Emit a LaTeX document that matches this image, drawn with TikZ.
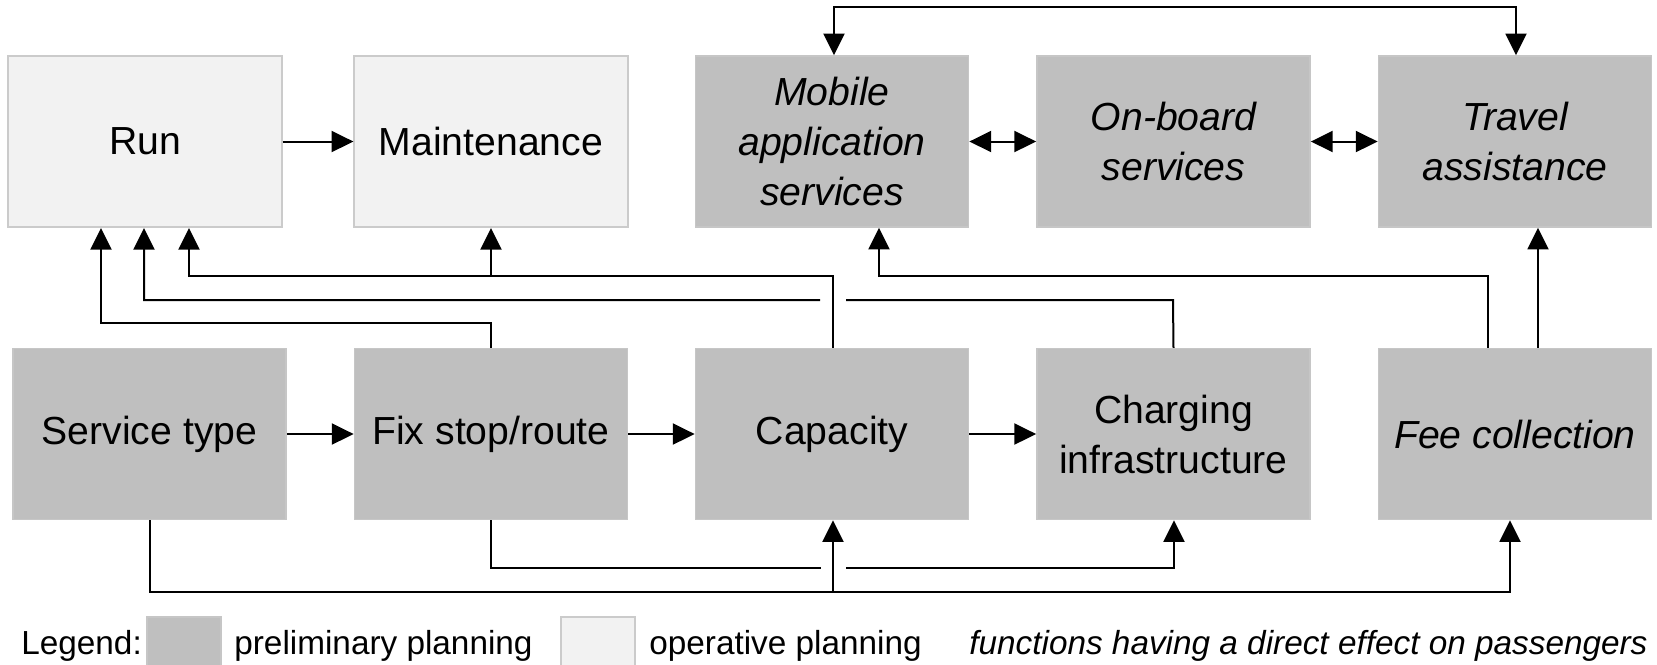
\documentclass[tikz,border=0pt]{standalone}
\usepackage{fontspec}
\setmainfont{Liberation Sans}
\usetikzlibrary{arrows.meta}
\definecolor{boxdark}{HTML}{BFBFBF}
\definecolor{boxdarkline}{HTML}{C6C6C6}
\definecolor{boxlight}{HTML}{F2F2F2}
\definecolor{boxlightline}{HTML}{CBCBCB}
\begin{document}
\begin{tikzpicture}[x=0.6pt,y=-0.6pt,
  dark/.style={fill=boxdark, draw=boxdarkline, line width=0.9pt, minimum width=164pt, minimum height=102.6pt, inner sep=0pt, align=center, font=\fontsize{23.5}{30}\selectfont},
  light/.style={dark, fill=boxlight, draw=boxlightline, line width=1.2pt},
  tip/.tip={Triangle[length=13pt,width=12.6pt]},
  wire/.style={line width=1.2pt},
  conn/.style={wire, -tip},
  dconn/.style={wire, tip-tip},
  legtext/.style={anchor=base west, inner sep=0pt, font=\fontsize{20}{24}\selectfont}
]
\useasboundingbox (0,0) rectangle (1657,664);

% top row
\node[light] (run) at (145,141.5) {Run};
\node[light] (maint) at (491,141.5) {Maintenance};
\node[dark] (mobile) at (832,141.5) {\itshape Mobile\\\itshape application\\\itshape services};
\node[dark] (onboard) at (1173.5,141.5) {\itshape On-board\\\itshape services};
\node[dark] (travel) at (1515,141.5) {\itshape Travel\\\itshape assistance};

% bottom row
\node[dark] (service) at (149.5,434) {Service type};
\node[dark] (fix) at (491,434) {Fix stop/route};
\node[dark] (capacity) at (832,434) {Capacity};
\node[dark] (charging) at (1173.5,434) {Charging\\infrastructure};
\node[dark] (fee) at (1515,434) {\itshape Fee collection};

% horizontal arrows
\draw[conn] (run) -- (maint);
\draw[dconn] (mobile) -- (onboard);
\draw[dconn] (onboard) -- (travel);
\draw[conn] (service) -- (fix);
\draw[conn] (fix) -- (capacity);
\draw[conn] (capacity) -- (charging);

% top loop
\draw[dconn] (mobile.north -| 834,0) -- (834,7) -- (1516,7) -- (travel.north -| 1516,0);

% upward connectors
\draw[conn] (fix.north) -- (491,323) -- (101,323) -- (run.south -| 101,0);
\draw[conn] (charging.north) -- (1173,300) -- (846,300) (820,300) -- (144,300) -- (run.south -| 144,0);
\coordinate (jm) at (491,276);
\draw[conn] (capacity.north -| 833,0) -- (833,276) -- (189,276) -- (run.south -| 189,0);
\draw[conn] (jm) -- (maint.south);
\draw[conn] (fee.north -| 1488,0) -- (1488,276) -- (879,276) -- (mobile.south -| 879,0);
\draw[conn] (fee.north -| 1538,0) -- (travel.south -| 1538,0);

% lower connectors
\coordinate (jc) at (833,592);
\draw[conn] (service.south) -- (149.5,592) -- (1510,592) -- (fee.south -| 1510,0);
\draw[conn] (jc) -- (capacity.south -| 833,0);
\draw[conn] (fix.south) -- (491,568) -- (821,568) (846,568) -- (1174,568) -- (charging.south -| 1174,0);

% legend
\node[legtext] (leg) at (21,654) {Legend:};
\filldraw[fill=boxdark, draw=boxdarkline, line width=0.9pt] (147,617) rectangle (221,666);
\node[legtext] (legpre) at (234,654) {preliminary planning};
\filldraw[fill=boxlight, draw=boxlightline, line width=1.2pt] (561,617) rectangle (635,666);
\node[legtext] (legop) at (649,654) {operative planning};
\node[legtext, font=\fontsize{20}{24}\selectfont\itshape] (legfun) at (969,654) {functions having a direct effect on passengers};
\end{tikzpicture}
\end{document}
